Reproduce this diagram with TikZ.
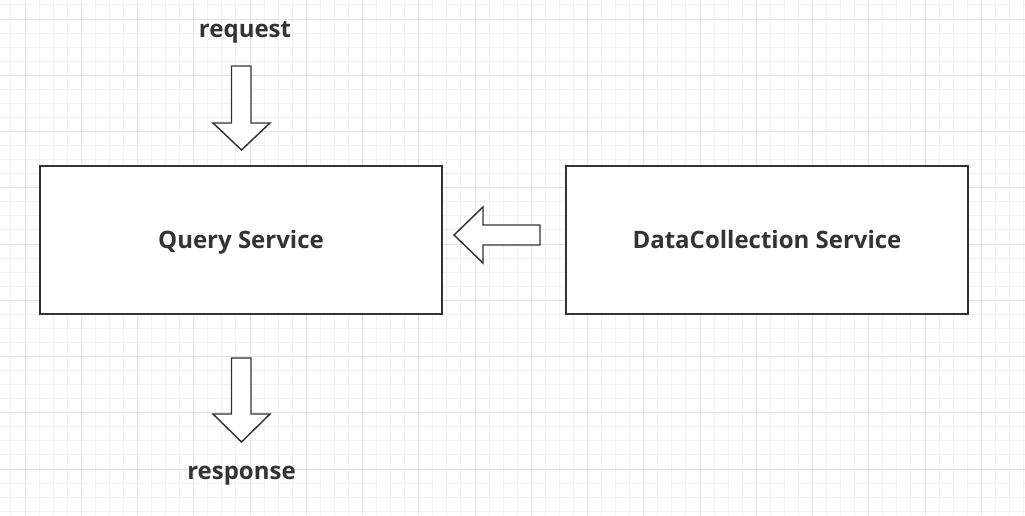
\documentclass[tikz,border=0pt]{standalone}
\usepackage{fontspec}
\setmainfont{Open Sans}
\definecolor{ink}{HTML}{333333}
\definecolor{gminor}{HTML}{F1F1F1}
\definecolor{gmajor}{HTML}{E3E3E3}
\tikzset{
  gridminor/.style={draw=gminor, line width=0.75pt},
  gridmajor/.style={draw=gmajor, line width=0.75pt},
  svcbox/.style={draw=ink, line width=1.1pt, fill=white, minimum width=301.5pt, minimum height=111pt, inner sep=0pt, text height=12pt, text depth=0pt, font=\fontsize{18}{21}\selectfont\bfseries, text=ink},
  lbl/.style={font=\fontsize{18}{21}\selectfont\bfseries, text=ink, inner sep=0pt, anchor=base},
  blockarrow/.style={draw=ink, line width=1.1pt, fill=white, line join=miter}
}
\begin{document}
\begin{tikzpicture}[x=0.75pt,y=-0.75pt]
\useasboundingbox (0,0) rectangle (1025,515);
\fill[white] (0,0) rectangle (1025,515);
% grid
\foreach \k in {0,...,72} \draw[gridminor] ({10.9375+\k*14.0625},0) -- ++(0,515);
\foreach \k in {0,...,36} \draw[gridminor] (0,{4.9375+\k*14.0625}) -- ++(1025,0);
\foreach \k in {0,...,17} \draw[gridmajor] ({25+\k*56.25},0) -- ++(0,515);
\foreach \k in {0,...,8} \draw[gridmajor] (0,{19+\k*56.25}) -- ++(1025,0);
% boxes
\node[svcbox] (qs) at (241,240) {Query Service};
\node[svcbox] (dc) at (767,240) {DataCollection Service};
% labels
\node[lbl] (req) at (245,37) {request};
\node[lbl] (resp) at (241.5,479) {response};
% block arrows
\draw[blockarrow] (231.5,66) -- (251,66) -- (251,123) -- (270,123) -- (241.5,150) -- (213,123) -- (231.5,123) -- cycle;
\draw[blockarrow] (231.5,358) -- (251,358) -- (251,414) -- (270,414) -- (241.5,442) -- (213,414) -- (231.5,414) -- cycle;
\draw[blockarrow] (540,225) -- (483,225) -- (483,207) -- (454,235) -- (483,263) -- (483,245) -- (540,245) -- cycle;
\end{tikzpicture}
\end{document}
